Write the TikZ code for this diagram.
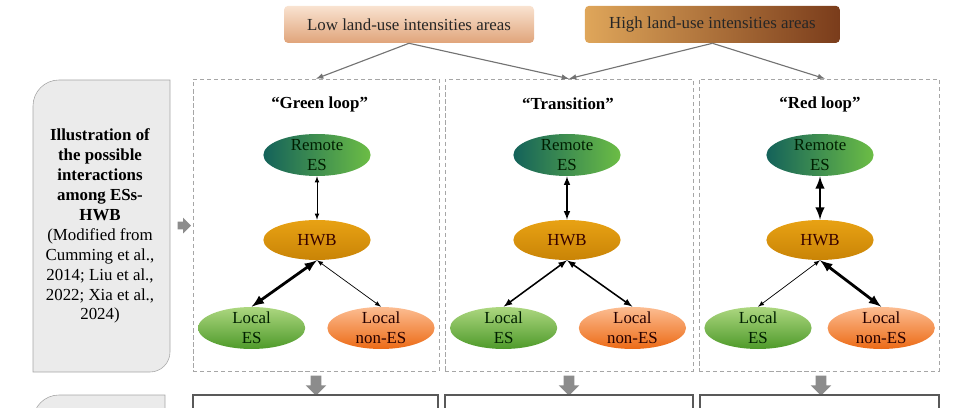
\documentclass[tikz,border=0pt]{standalone}
\usepackage{fontspec}
\setmainfont{Liberation Serif}
\usetikzlibrary{shapes.geometric,shapes.arrows}

\definecolor{lowtop}{HTML}{F9E3D1}
\definecolor{lowbot}{HTML}{E0A47A}
\definecolor{highleft}{HTML}{DFA65A}
\definecolor{highright}{HTML}{7A3C1B}
\definecolor{remleft}{HTML}{14625A}
\definecolor{remright}{HTML}{6CBD45}
\definecolor{hwbtop}{HTML}{E8A214}
\definecolor{hwbmid}{HTML}{F6BB2C}
\definecolor{hwbbot}{HTML}{C98406}
\definecolor{lestop}{HTML}{ADD780}
\definecolor{lesbot}{HTML}{4E9A2A}
\definecolor{nestop}{HTML}{FCBD92}
\definecolor{nesbot}{HTML}{EC6A15}
\definecolor{sidegray}{HTML}{EBEBEB}

\begin{document}
\begin{tikzpicture}[
    font=\fontsize{12}{14.2}\selectfont,
    >=latex,
    areabox/.style={rectangle, rounded corners=3pt, minimum width=6.25cm, minimum height=0.93cm, text=black!85},
    panel/.style={rectangle, draw=gray!70, densely dashed, minimum height=7.3cm},
    title/.style={font=\fontsize{12}{14.2}\selectfont\bfseries},
    es/.style={ellipse, minimum width=2.68cm, minimum height=1.05cm, inner sep=0pt},
    remote/.style={es, left color=remleft, right color=remright,
        label={[align=center, text=black!80!green!60!black]center:Remote\\ES}},
    hwb/.style={es, minimum height=1cm, top color=hwbtop, middle color=hwbmid, bottom color=hwbbot,
        label={[text=black!70!red!70!black]center:HWB}},
    locales/.style={es, top color=lestop, bottom color=lesbot,
        label={[align=center, text=black!80!green!60!black]center:Local\\ES}},
    localnes/.style={es, top color=nestop, bottom color=nesbot,
        label={[align=center, text=black!75!red!60!black]center:Local\\non-ES}},
    feed/.style={->, draw=black!55, line width=0.8pt},
    weak/.style={<->, line width=0.5pt},
    medium/.style={<->, line width=1.1pt},
    strong/.style={<->, line width=2pt},
    blockarrow/.style={single arrow, fill=black!45, inner xsep=0pt},
    down/.style={blockarrow, shape border rotate=270, minimum height=0.5cm,
        inner sep=0.125cm, single arrow head extend=0.125cm},
    result/.style={draw=black!65, line width=0.8pt},
]

\clip (0,0) rectangle (24,-10.2);

% Land-use intensity areas
\node[areabox, top color=lowtop, bottom color=lowbot] (low) at (10.225,-0.61) {Low land-use intensities areas};
\node[areabox, minimum width=6.375cm, left color=highleft, right color=highright] (high) at (17.81,-0.61) {High land-use intensities areas};

% Left side label
\draw[fill=sidegray, draw=gray!70] (0.825,-9.3) -- (0.825,-2.65) arc[start angle=180, end angle=90, radius=0.65]
    -- (4.25,-2.0) -- (4.25,-8.8) arc[start angle=0, end angle=-90, radius=0.5] -- cycle;
\node[align=center] (illus) at (2.5,-5.65) {\textbf{Illustration of}\\\textbf{the possible}\\\textbf{interactions}\\
    \textbf{among ESs-}\\\textbf{HWB}\\(Modified from\\Cumming et al.,\\2014; Liu et al.,\\2022; Xia et al.,\\2024)};
\node[blockarrow, minimum height=0.33cm, inner ysep=0.09cm, single arrow head extend=0.1cm] (side) at (4.56,-5.64) {};

% Panels
\node[panel, minimum width=6.15cm] (p1) at (7.9,-5.625) {};
\node[panel, minimum width=6.2cm] (p2) at (14.225,-5.625) {};
\node[panel, minimum width=6.0cm] (p3) at (20.475,-5.625) {};

\draw[feed] (low.south) -- (p1.north);
\draw[feed] (low.south) -- (p2.north);
\draw[feed] (high.south) -- (p2.north);
\draw[feed] (high.south) -- ([xshift=0.15cm]p3.north);

% "Green loop"
\node[title] (t1) at (7.99,-2.6) {``Green loop''};
\node[remote] (rem1) at (7.925,-3.875) {};
\node[hwb] (hwb1) at (7.925,-6.0) {};
\node[locales] (les1) at (6.29,-8.2) {};
\node[localnes] (nes1) at (9.525,-8.2) {};
\draw[weak] (rem1.south) -- (hwb1.north);
\draw[strong] (hwb1.south) -- (les1.north);
\draw[weak] (hwb1.south) -- (nes1.north);

% "Transition"
\node[title] (t2) at (14.2,-2.6) {``Transition''};
\node[remote] (rem2) at (14.175,-3.875) {};
\node[hwb] (hwb2) at (14.175,-6.0) {};
\node[locales] (les2) at (12.59,-8.2) {};
\node[localnes] (nes2) at (15.81,-8.2) {};
\draw[medium] (rem2.south) -- (hwb2.north);
\draw[medium] (hwb2.south) -- (les2.north);
\draw[medium] (hwb2.south) -- (nes2.north);

% "Red loop"
\node[title] (t3) at (20.5,-2.6) {``Red loop''};
\node[remote] (rem3) at (20.5,-3.875) {};
\node[hwb] (hwb3) at (20.5,-6.0) {};
\node[locales] (les3) at (18.95,-8.2) {};
\node[localnes] (nes3) at (22.03,-8.2) {};
\draw[strong] (rem3.south) -- (hwb3.north);
\draw[weak] (hwb3.south) -- (les3.north);
\draw[strong] (hwb3.south) -- (nes3.north);

% Next row (cut off)
\node[down] (d1) at (7.9,-9.575) {};
\node[down] (d2) at (14.225,-9.575) {};
\node[down] (d3) at (20.525,-9.575) {};
\draw[result] (4.825,-10.6) rectangle (10.95,-9.875);
\draw[result] (11.125,-10.6) rectangle (17.325,-9.875);
\draw[result] (17.5,-10.6) rectangle (23.475,-9.875);
\draw[fill=sidegray, draw=gray!70] (0.825,-10.6) -- (0.825,-10.525) arc[start angle=180, end angle=90, radius=0.65]
    -- (4.125,-9.875) -- (4.125,-10.6);

\end{tikzpicture}
\end{document}
